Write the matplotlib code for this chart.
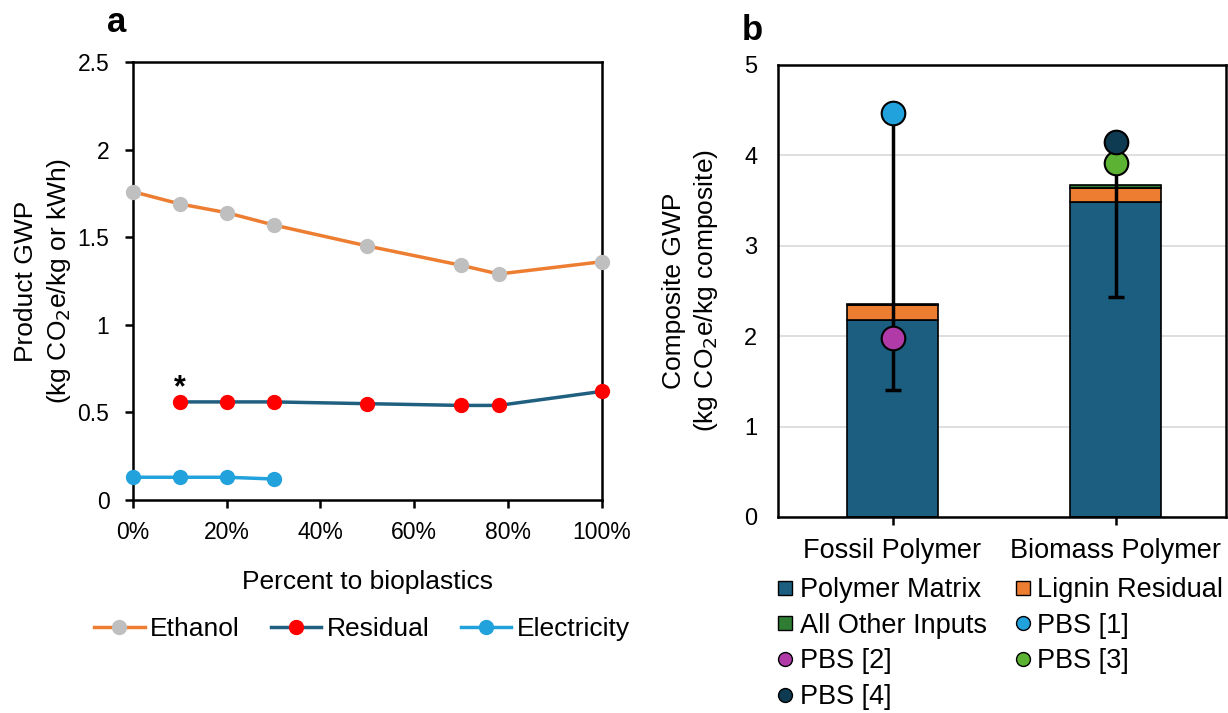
import matplotlib
matplotlib.use("Agg")
import matplotlib.pyplot as plt
from matplotlib.lines import Line2D
import numpy as np

plt.rcParams['font.family'] = ['Liberation Sans', 'DejaVu Sans']

# ---- Panel a data ----
pct_eth = [0, 10, 20, 30, 50, 70, 78, 100]
ethanol = [1.76, 1.69, 1.64, 1.57, 1.45, 1.34, 1.29, 1.36]
pct_res = [10, 20, 30, 50, 70, 78, 100]
residual = [0.56, 0.56, 0.56, 0.55, 0.54, 0.54, 0.62]
pct_ele = [0, 10, 20, 30]
electricity = [0.13, 0.13, 0.13, 0.12]
a_xticks = [0, 20, 40, 60, 80, 100]
a_xticklabels = ['0%', '20%', '40%', '60%', '80%', '100%']
a_yticks = [0, 0.5, 1, 1.5, 2, 2.5]
a_yticklabels = ['0', '0.5', '1', '1.5', '2', '2.5']

# ---- Panel b data ----
categories = ['Fossil Polymer', 'Biomass Polymer']
polymer_matrix = [2.18, 3.48]
lignin_residual = [0.16, 0.16]
other_inputs = [0.02, 0.03]
err_low = [1.40, 2.43]
err_high = [4.46, 3.87]
pbs1 = 4.47   # fossil
pbs2 = 1.98   # fossil
pbs3 = 3.91   # biomass
pbs4 = 4.15   # biomass

C_ORANGE = '#ed7d31'
C_GRAY = '#bfbfbf'
C_TEAL = '#1f5f7f'
C_RED = '#ff0000'
C_LBLUE = '#22a2dc'
C_BAR = '#1b5e80'
C_GREEN = '#2f7d32'
C_PURPLE = '#b03aa8'
C_LGREEN = '#5cb233'
C_NAVY = '#0f3b52'

fig = plt.figure(figsize=(12.28, 7.13), dpi=100)

# ---------------- Panel a ----------------
axa = fig.add_axes([0.1083, 0.2987, 0.3817, 0.6143])
la1, = axa.plot(pct_eth, ethanol, color=C_ORANGE, lw=2.5, marker='o', ms=10,
                mfc=C_GRAY, mec=C_GRAY, label='Ethanol', zorder=3, clip_on=False)
la2, = axa.plot(pct_res, residual, color=C_TEAL, lw=2.5, marker='o', ms=10,
                mfc=C_RED, mec=C_RED, label='Residual', zorder=3, clip_on=False)
la3, = axa.plot(pct_ele, electricity, color=C_LBLUE, lw=2.5, marker='o', ms=10,
                mfc=C_LBLUE, mec=C_LBLUE, label='Electricity', zorder=3,
                clip_on=False)
axa.text(pct_res[0], 0.55, '*', ha='center', va='bottom', fontsize=22,
         fontweight='bold')
axa.set_xlim(0, 100)
axa.set_ylim(0, 2.5)
axa.set_xticks(a_xticks)
axa.set_xticklabels(a_xticklabels)
axa.set_yticks(a_yticks)
axa.set_yticklabels(a_yticklabels)
axa.tick_params(axis='both', labelsize=16.5, length=6, width=1.8, direction='out')
axa.tick_params(axis='x', pad=9)
axa.tick_params(axis='y', pad=11)
for s in axa.spines.values():
    s.set_linewidth(1.8)
axa.set_xlabel('Percent to bioplastics', fontsize=19, labelpad=19)
axa.set_ylabel('Product GWP\n(kg CO$_2$e/kg or kWh)', fontsize=19,
               labelpad=3, linespacing=1.35)
fig.legend([la1, la2, la3], ['Ethanol', 'Residual', 'Electricity'],
           loc='center', bbox_to_anchor=(362 / 1228, 1 - 629 / 713), ncol=3,
           frameon=False, fontsize=19, handlelength=1.9, handletextpad=0.2,
           columnspacing=1.2, borderpad=0, borderaxespad=0)
fig.text(117 / 1228, 1 - 22 / 713, 'a', fontsize=25, fontweight='bold',
         ha='center', va='center')

# ---------------- Panel b ----------------
axb = fig.add_axes([0.6336, 0.2749, 0.365, 0.634])
x = np.arange(len(categories))
w = 0.41
axb.bar(x, polymer_matrix, w, color=C_BAR, edgecolor='black', lw=1.2,
        label='Polymer Matrix', zorder=2)
base2 = np.array(polymer_matrix)
axb.bar(x, lignin_residual, w, bottom=base2, color=C_ORANGE,
        edgecolor='black', lw=1.2, label='Lignin Residual', zorder=2)
base3 = base2 + np.array(lignin_residual)
axb.bar(x, other_inputs, w, bottom=base3, color=C_GREEN,
        edgecolor='black', lw=1.2, label='All Other Inputs', zorder=2)
tot = base3 + np.array(other_inputs)
yerr = np.array([tot - np.array(err_low), np.array(err_high) - tot])
axb.errorbar(x, tot, yerr=yerr, fmt='none', ecolor='black', elinewidth=2.5,
             capsize=6, capthick=2.5, zorder=3)
axb.plot([x[0]], [pbs1], 'o', ms=17, mfc=C_LBLUE, mec='black', mew=1.5, zorder=4)
axb.plot([x[0]], [pbs2], 'o', ms=17, mfc=C_PURPLE, mec='black', mew=1.5, zorder=4)
axb.plot([x[1]], [pbs3], 'o', ms=17, mfc=C_LGREEN, mec='black', mew=1.5, zorder=4)
axb.plot([x[1]], [pbs4], 'o', ms=17, mfc=C_NAVY, mec='black', mew=1.5, zorder=5)
axb.set_xlim(-0.513, 1.496)
axb.set_ylim(0, 5)
axb.set_yticks([0, 1, 2, 3, 4, 5])
axb.set_yticklabels(['0', '1', '2', '3', '4', '5'])
axb.yaxis.grid(True, color='#d9d9d9', lw=1.2, zorder=0)
axb.set_axisbelow(True)
axb.set_xticks(x)
axb.set_xticklabels(categories)
axb.tick_params(axis='y', labelsize=17, length=0, pad=15)
axb.tick_params(axis='x', labelsize=19.5, length=6, width=1.8, pad=9)
for s in axb.spines.values():
    s.set_linewidth(1.8)
axb.set_ylabel('Composite GWP\n(kg CO$_2$e/kg composite)', fontsize=19,
               labelpad=17, linespacing=1.3)

handles = [
    Line2D([], [], marker='s', ls='none', ms=10, mfc=C_BAR, mec='black', mew=1),
    Line2D([], [], marker='s', ls='none', ms=10, mfc=C_ORANGE, mec='black', mew=1),
    Line2D([], [], marker='s', ls='none', ms=10, mfc=C_GREEN, mec='black', mew=1),
    Line2D([], [], marker='o', ls='none', ms=10, mfc=C_LBLUE, mec='black', mew=1),
    Line2D([], [], marker='o', ls='none', ms=10, mfc=C_PURPLE, mec='black', mew=1),
    Line2D([], [], marker='o', ls='none', ms=10, mfc=C_LGREEN, mec='black', mew=1),
    Line2D([], [], marker='o', ls='none', ms=10, mfc=C_NAVY, mec='black', mew=1),
]
labels = ['Polymer Matrix', 'Lignin Residual', 'All Other Inputs', 'PBS [1]',
          'PBS [2]', 'PBS [3]', 'PBS [4]']
order = [0, 2, 4, 6, 1, 3, 5]
fig.legend([handles[i] for i in order], [labels[i] for i in order],
           loc='upper left', bbox_to_anchor=(778 / 1228, 1 - 577 / 713),
           ncol=2, frameon=False, fontsize=19.5, handlelength=0.55,
           handletextpad=0.25, columnspacing=1.05, labelspacing=0.36,
           borderpad=0, borderaxespad=0)
fig.text(752 / 1228, 1 - 30 / 713, 'b', fontsize=25, fontweight='bold',
         ha='center', va='center')

fig.savefig('out.png', dpi=100)
